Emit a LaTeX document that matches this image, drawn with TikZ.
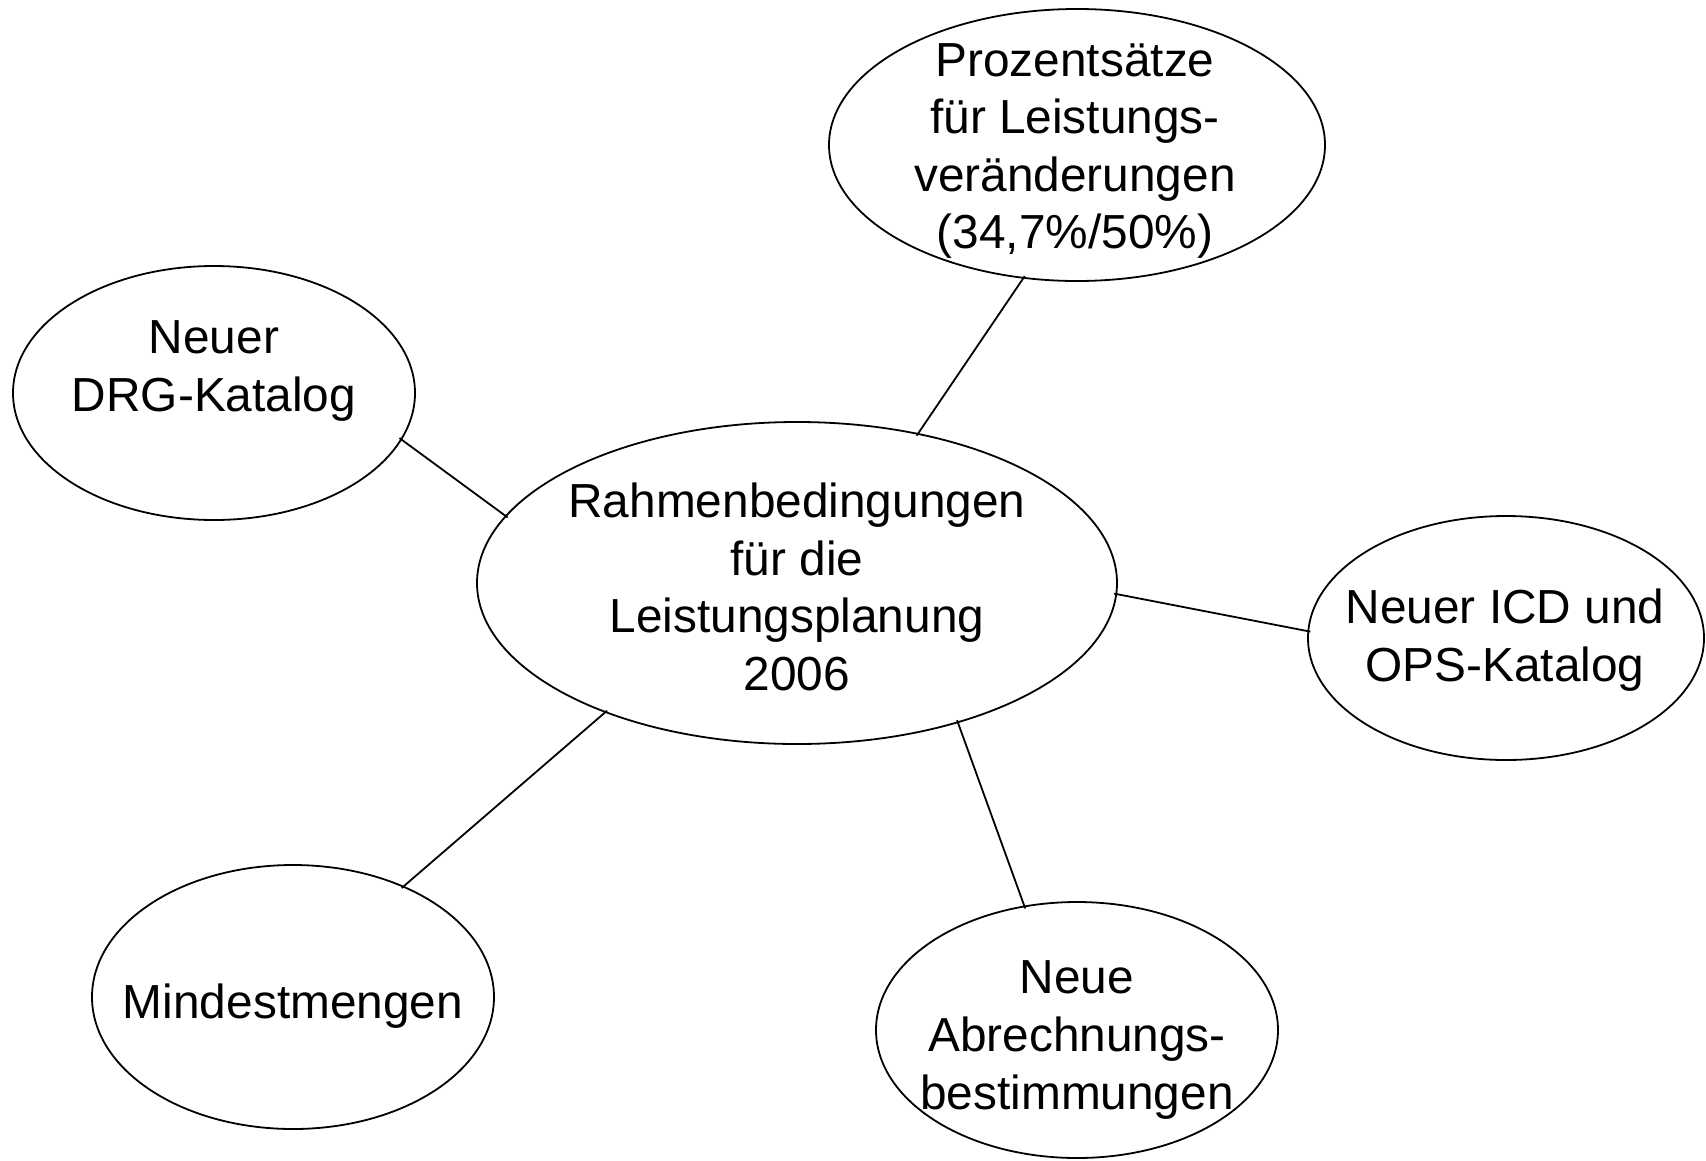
\documentclass[tikz,border=0pt]{standalone}
\usepackage{fontspec}
\setmainfont{Liberation Sans}
\usetikzlibrary{shapes.geometric}
\begin{document}
\begin{tikzpicture}[x=1pt,y=-1pt,
  bubble/.style={draw=black, line width=1.8pt, ellipse, inner sep=0pt},
  label text/.style={align=center, inner sep=0pt, font=\fontsize{47.8}{57.6}\selectfont},
  conn/.style={line width=1.8pt, shorten <=-3pt, shorten >=-3pt}]
\useasboundingbox (0,0) rectangle (1706,1160);
\fill[white] (0,0) rectangle (1706,1160);
% ellipses
\node[bubble, minimum width=640, minimum height=322] (c) at (797,583) {};
\node[bubble, minimum width=496, minimum height=272] (top) at (1077,145) {};
\node[bubble, minimum width=402, minimum height=254] (drg) at (214,393) {};
\node[bubble, minimum width=396, minimum height=244] (icd) at (1506,638) {};
\node[bubble, minimum width=402, minimum height=264] (mind) at (293,997) {};
\node[bubble, minimum width=402, minimum height=256] (abr) at (1077,1030) {};
% texts
\node[label text] (ct) at (797,587) {Rahmenbedingungen\\für die\\Leistungsplanung\\2006};
\node[label text] (topt) at (1075,151) {Prozentsätze\\für Leistungs-\\veränderungen\\(34,7\%/50\%)};
\node[label text] (drgt) at (214,371) {Neuer\\DRG-Katalog};
\node[label text] (icdt) at (1505,640) {Neuer ICD und\\OPS-Katalog};
\node[label text] (mindt) at (293,1006) {Mindestmengen};
\node[label text] (abrt) at (1077,1040) {Neue\\Abrechnungs-\\bestimmungen};
% connectors
\draw[conn] (drg.-14.6) -- (c.167.6);
\draw[conn] (top.248.3) -- (c.51.5);
\draw[conn] (c.-2.7) -- (icd.178);
\draw[conn] (c.-41.2) -- (abr.113.2);
\draw[conn] (c.214.1) -- (mind.45.8);
\end{tikzpicture}
\end{document}
